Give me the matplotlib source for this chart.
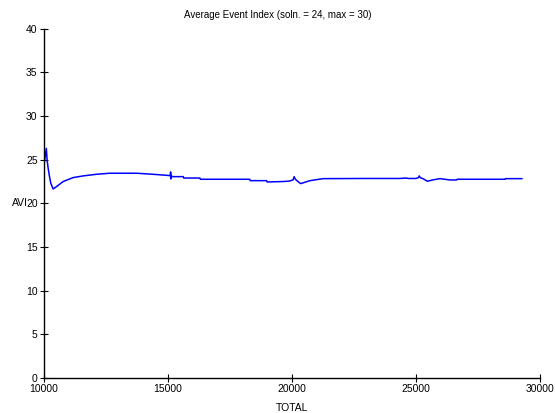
import matplotlib
matplotlib.use("Agg")
from matplotlib import pyplot as plt

plt.rcParams['font.family'] = ['Liberation Sans', 'DejaVu Sans']

# values
total = [10000, 10050, 10100, 10130, 10170, 10220, 10280, 10375, 10500, 10780,
         11180, 11600, 12125, 12660, 13200, 13740, 14400, 15000, 15080, 15100,
         15110, 15120, 15140, 15160, 15620, 15640, 16290, 16310, 18300, 18320,
         18980, 19000, 19650, 19900, 20050, 20090, 20130, 20200, 20350, 20730,
         21000, 21260, 23000, 24350, 24600, 24700, 25000, 25100, 25130, 25170,
         25300, 25460, 25700, 25970, 26370, 26640, 26660, 28590, 28610, 29270]
avi = [24.2, 25.3, 26.3, 25.0, 24.1, 23.2, 22.3, 21.65, 21.9, 22.5,
       22.95, 23.15, 23.33, 23.45, 23.45, 23.45, 23.33, 23.2, 23.17, 23.29,
       23.6, 22.8, 23.2, 23.06, 23.06, 22.9, 22.9, 22.76, 22.76, 22.6,
       22.6, 22.45, 22.5, 22.55, 22.7, 23.06, 22.8, 22.6, 22.26, 22.6,
       22.72, 22.83, 22.85, 22.85, 22.9, 22.85, 22.85, 22.95, 23.14, 22.95,
       22.8, 22.53, 22.7, 22.83, 22.68, 22.68, 22.76, 22.76, 22.83, 22.83]

title = "Average Event Index (soln. = 24, max = 30)"
xticks = [10000, 15000, 20000, 25000, 30000]
yticks = [0, 5, 10, 15, 20, 25, 30, 35, 40]

fig = plt.figure(figsize=(5.55, 4.13), dpi=100)
ax = fig.add_axes([0.079, 0.0847, 0.894, 0.8458])

ax.plot(total, avi, color='#0000ff', linewidth=1.1)

ax.set_xlim(10000, 30000)
ax.set_ylim(0, 40)
ax.set_xticks(xticks)
ax.set_yticks(yticks)
ax.tick_params(direction='inout', length=6, width=0.8, labelsize=7.5, pad=1.5, colors='black')

for side in ['top', 'right']:
    ax.spines[side].set_visible(False)
for side in ['left', 'bottom']:
    ax.spines[side].set_linewidth(1.0)

ax.set_xlabel('TOTAL', fontsize=7.5, labelpad=6)
ax.set_ylabel('AVI', fontsize=7.5, rotation=0, ha='right', va='center')
ax.yaxis.set_label_coords(-0.033, 0.5)

fig.text(0.5, 0.963, title, ha='center', va='center', fontsize=7)

fig.savefig('out.png', dpi=100)
